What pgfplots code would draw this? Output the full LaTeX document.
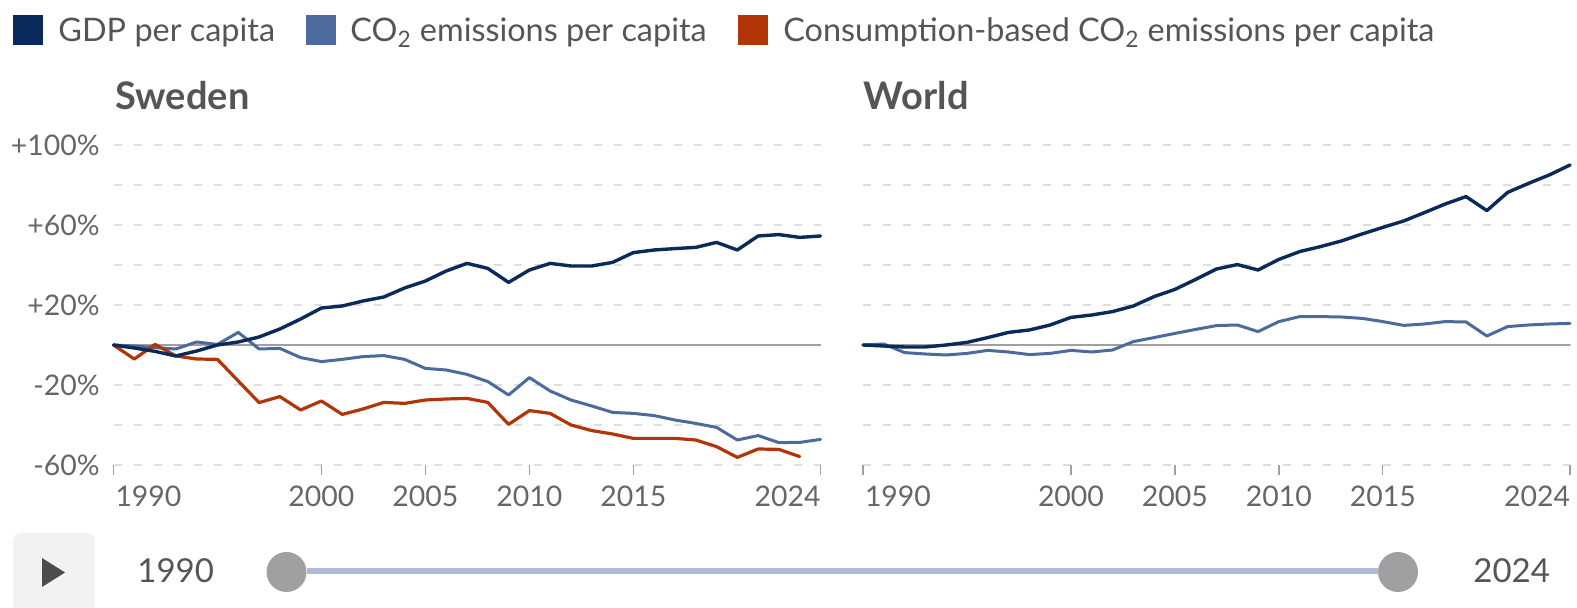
\documentclass[border=0pt]{standalone}
\usepackage{fontspec}
\setmainfont{Lato}
\usepackage{pgfplots}
\pgfplotsset{compat=1.18}
\definecolor{gdp}{HTML}{0B2A5C}
\definecolor{co2}{HTML}{4C6A9C}
\definecolor{cons}{HTML}{B13507}
\definecolor{txt}{HTML}{555555}
\definecolor{tickc}{HTML}{666666}
\definecolor{gridc}{HTML}{DDDDDD}
\definecolor{zeroc}{HTML}{A0A0A0}
\begin{document}
\begin{tikzpicture}[x=1pt,y=1pt]
\useasboundingbox (0,0) rectangle (788.5,304);
\pgfplotsset{
  panel/.style={
    at={(#1pt,71.5pt)}, anchor=south west, scale only axis,
    width=353.5pt, height=160pt,
    xmin=1990, xmax=2024, ymin=-60, ymax=100,
    clip=false,
    axis line style={draw=none},
    xtick={1990,2000,2005,2010,2015,2024},
    xticklabels={\makebox[0pt][l]{\hspace{1pt}1990},2000,2005,2010,2015,\makebox[0pt][r]{2024}},
    xtick pos=bottom, xtick align=outside, major tick length=5pt,
    xtick style={draw=zeroc, line width=0.6pt},
    ytick={-60,-40,-20,0,20,40,60,80,100},
    ytick style={draw=none},
    ymajorgrids,
    major grid style={gridc, line width=0.75pt, dash pattern=on 4pt off 6pt},
    tick label style={font=\fontsize{14.2}{17}\selectfont, text=tickc, inner sep=0pt},
    xticklabel style={anchor=base, yshift=-16pt},
    yticklabel style={anchor=east, xshift=-6.75pt},
    every axis plot/.append style={line join=round, line cap=round},
  }
}
% Sweden
\begin{axis}[panel=56.75,
  yticklabels={-60\%,,-20\%,,+20\%,,+60\%,,+100\%}]
\addplot[zeroc, line width=0.75pt] coordinates {(1990,0) (2024,0)};
\addplot[co2, line width=1.5pt] coordinates {
(1990,0) (1991,-0.5) (1992,-1.3) (1993,-2) (1994,1.5) (1995,0.3) (1996,6.3) (1997,-2) (1998,-1.7) (1999,-6.3)
(2000,-8.3) (2001,-7.2) (2002,-5.8) (2003,-5.3) (2004,-7.2) (2005,-11.7) (2006,-12.5) (2007,-14.7) (2008,-18.3) (2009,-25)
(2010,-16.3) (2011,-23) (2012,-27.5) (2013,-30.5) (2014,-33.7) (2015,-34.2) (2016,-35.3) (2017,-37.5) (2018,-39.2) (2019,-41.2)
(2020,-47.5) (2021,-45.3) (2022,-48.8) (2023,-48.7) (2024,-47.2)};
\addplot[cons, line width=1.6pt] coordinates {
(1990,0) (1991,-7) (1992,0.3) (1993,-5.5) (1994,-7) (1995,-7.2) (1996,-18) (1997,-28.8) (1998,-25.8) (1999,-32.5)
(2000,-28) (2001,-34.7) (2002,-32) (2003,-28.7) (2004,-29.2) (2005,-27.5) (2006,-27) (2007,-26.7) (2008,-28.7) (2009,-39.7)
(2010,-32.8) (2011,-34.2) (2012,-40) (2013,-42.8) (2014,-44.5) (2015,-46.7) (2016,-46.7) (2017,-46.7) (2018,-47.5) (2019,-50.8)
(2020,-56.2) (2021,-52) (2022,-52.2) (2023,-55.8)};
\addplot[gdp, line width=1.7pt] coordinates {
(1990,0) (1991,-1.5) (1992,-3.2) (1993,-5.5) (1994,-3) (1995,0) (1996,1.5) (1997,4) (1998,8) (1999,13)
(2000,18.5) (2001,19.5) (2002,22) (2003,24) (2004,28.5) (2005,32) (2006,37) (2007,40.8) (2008,38.3) (2009,31.3)
(2010,37.5) (2011,40.8) (2012,39.5) (2013,39.5) (2014,41.3) (2015,46.2) (2016,47.5) (2017,48.2) (2018,48.8) (2019,51.3)
(2020,47.5) (2021,54.5) (2022,55.2) (2023,53.8) (2024,54.5)};
\end{axis}
% World
\begin{axis}[panel=431.5, yticklabels={}]
\addplot[zeroc, line width=0.75pt] coordinates {(1990,0) (2024,0)};
\addplot[co2, line width=1.5pt] coordinates {
(1990,0) (1991,0.5) (1992,-3.8) (1993,-4.5) (1994,-5) (1995,-4.2) (1996,-2.7) (1997,-3.5) (1998,-4.8) (1999,-4.2)
(2000,-2.7) (2001,-3.5) (2002,-2.5) (2003,1.7) (2004,3.7) (2005,5.8) (2006,7.8) (2007,9.7) (2008,10) (2009,6.7)
(2010,11.7) (2011,14.2) (2012,14.2) (2013,14) (2014,13.3) (2015,11.7) (2016,9.8) (2017,10.5) (2018,11.7) (2019,11.5)
(2020,4.5) (2021,9.2) (2022,10) (2023,10.5) (2024,10.8)};
\addplot[gdp, line width=1.7pt] coordinates {
(1990,0) (1991,-0.5) (1992,-1) (1993,-1) (1994,0) (1995,1.3) (1996,3.7) (1997,6.3) (1998,7.5) (1999,10)
(2000,13.8) (2001,15) (2002,16.7) (2003,19.5) (2004,24.2) (2005,27.8) (2006,32.8) (2007,38) (2008,40.2) (2009,37.5)
(2010,42.8) (2011,46.7) (2012,49.2) (2013,52) (2014,55.5) (2015,58.8) (2016,62) (2017,66.2) (2018,70.5) (2019,74.2)
(2020,67.2) (2021,76.3) (2022,80.8) (2023,85) (2024,90)};
\end{axis}
% titles
\node[anchor=base west, inner sep=0pt, font=\fontsize{19}{22}\selectfont\bfseries, text=txt] at (57.5,249) {Sweden};
\node[anchor=base west, inner sep=0pt, font=\fontsize{19}{22}\selectfont\bfseries, text=txt] at (431.75,249) {World};
% legend
\fill[gdp] (6.5,281.5) rectangle (21.5,296.5);
\node[anchor=base west, inner sep=0pt, font=\fontsize{16.2}{19}\selectfont, text=txt] at (29,283) {GDP per capita};
\fill[co2] (153,281.5) rectangle (168,296.5);
\node[anchor=base west, inner sep=0pt, font=\fontsize{16.2}{19}\selectfont, text=txt] at (175,283) {CO\textsubscript{2} emissions per capita};
\fill[cons] (369,281.5) rectangle (384,296.5);
\node[anchor=base west, inner sep=0pt, font=\fontsize{16.2}{19}\selectfont, text=txt] at (391.5,283) {Consumption-based CO\textsubscript{2} emissions per capita};
% timeline
\fill[black!5, rounded corners=4pt] (6.5,-6) rectangle (47.5,37.5);
\fill[txt!90!black] (21,25) -- (21,10.5) -- (32.5,17.75) -- cycle;
\node[anchor=base west, inner sep=0pt, font=\fontsize{16.5}{19}\selectfont, text=txt] at (68.5,12.5) {1990};
\node[anchor=base west, inner sep=0pt, font=\fontsize{16.5}{19}\selectfont, text=txt] at (736.5,12.5) {2024};
\draw[line width=2.6pt, draw=co2!45] (153.5,18.5) -- (689,18.5);
\fill[zeroc] (143.25,18) circle (10pt);
\fill[zeroc] (699,18) circle (10pt);
\end{tikzpicture}
\end{document}
